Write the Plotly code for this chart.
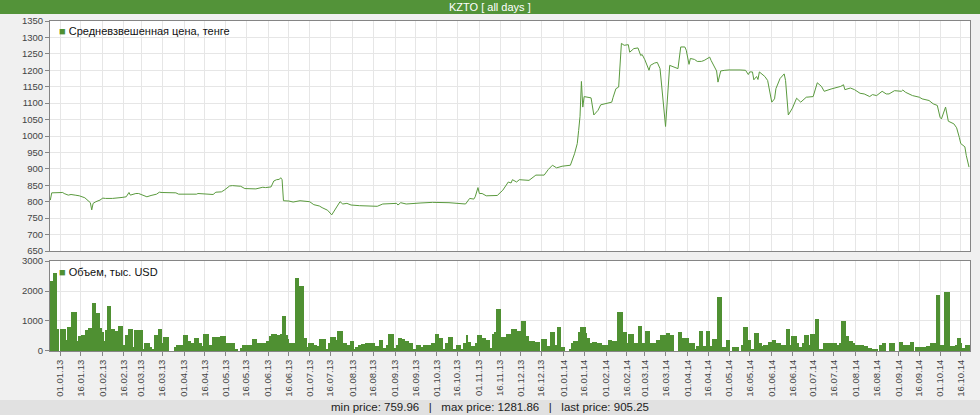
import plotly.graph_objects as go
import pandas as pd

GREEN = "#4f9032"

# ---------------- data ----------------
price_dates = [
"2012-12-25","2012-12-26","2013-01-03","2013-01-04","2013-01-07","2013-01-09","2013-01-12","2013-01-15","2013-01-19","2013-01-21",
"2013-01-23","2013-01-24","2013-01-25","2013-01-27","2013-01-30","2013-02-01","2013-02-03","2013-02-08","2013-02-12","2013-02-15",
"2013-02-18","2013-02-20","2013-02-21","2013-02-25","2013-02-27","2013-03-02","2013-03-04","2013-03-05","2013-03-08","2013-03-12",
"2013-03-14","2013-03-16","2013-03-26","2013-03-28","2013-04-10","2013-04-11","2013-04-22","2013-04-24","2013-04-28","2013-04-30",
"2013-05-04","2013-05-06","2013-05-12","2013-05-15","2013-05-23","2013-05-26","2013-05-28","2013-05-30","2013-06-03","2013-06-05",
"2013-06-07","2013-06-09","2013-06-10","2013-06-11","2013-06-12","2013-06-16","2013-06-19","2013-06-24","2013-06-28","2013-07-01",
"2013-07-04","2013-07-08","2013-07-10","2013-07-14","2013-07-17","2013-07-19","2013-07-21","2013-07-23","2013-07-25","2013-07-28",
"2013-07-31","2013-08-06","2013-08-19","2013-08-23","2013-09-02","2013-09-03","2013-09-05","2013-09-09","2013-09-19","2013-09-28",
"2013-10-10","2013-10-18","2013-10-22","2013-10-25","2013-10-28","2013-10-29","2013-10-31","2013-11-01","2013-11-03","2013-11-06",
"2013-11-14","2013-11-18","2013-11-22","2013-11-24","2013-11-25","2013-11-28","2013-11-30","2013-12-07","2013-12-12","2013-12-18",
"2013-12-21","2013-12-24","2013-12-27","2013-12-31","2014-01-06","2014-01-09","2014-01-11","2014-01-12","2014-01-13","2014-01-14",
"2014-01-15","2014-01-16","2014-01-19","2014-01-21","2014-01-23","2014-01-26","2014-01-28","2014-02-01","2014-02-05","2014-02-06",
"2014-02-08","2014-02-10","2014-02-12","2014-02-14","2014-02-17","2014-02-18","2014-02-21","2014-02-24","2014-02-26","2014-02-27",
"2014-03-01","2014-03-04","2014-03-05","2014-03-08","2014-03-10","2014-03-12","2014-03-14","2014-03-16","2014-03-19","2014-03-22",
"2014-03-25","2014-03-27","2014-03-30","2014-03-31","2014-04-02","2014-04-03","2014-04-06","2014-04-08","2014-04-11","2014-04-13",
"2014-04-17","2014-04-18","2014-04-22","2014-04-23","2014-04-25","2014-04-28","2014-05-01","2014-05-09","2014-05-13","2014-05-15",
"2014-05-16","2014-05-18","2014-05-19","2014-05-21","2014-05-22","2014-05-23","2014-05-27","2014-05-29","2014-06-01","2014-06-03",
"2014-06-04","2014-06-07","2014-06-10","2014-06-11","2014-06-13","2014-06-16","2014-06-19","2014-06-22","2014-06-26","2014-07-01",
"2014-07-04","2014-07-07","2014-07-09","2014-07-14","2014-07-18","2014-07-21","2014-07-23","2014-07-24","2014-07-28","2014-07-31",
"2014-08-04","2014-08-07","2014-08-11","2014-08-13","2014-08-16","2014-08-20","2014-08-23","2014-08-25","2014-08-29","2014-09-03",
"2014-09-04","2014-09-06","2014-09-11","2014-09-16","2014-09-18","2014-09-23","2014-09-26","2014-09-29","2014-10-01","2014-10-02",
"2014-10-05","2014-10-07","2014-10-11","2014-10-13","2014-10-15","2014-10-16","2014-10-19","2014-10-20","2014-10-22",
]
price_values = [
805,827,828,825,820,822,820,818,812,805,
797,775,795,800,805,811,810,810,811,813,
815,828,820,825,825,820,819,815,819,823,
829,828,827,823,823,825,822,829,830,835,
848,849,847,840,839,843,844,843,845,863,
867,868,873,867,803,802,799,803,800,800,
791,787,782,774,759.96,774,787,800,793,795,
790,788,786,793,795,790,797,793,796,798,
797,793,793,810,808,815,843,825,825,818,
819,835,860,857,867,860,867,865,881,881,
898,911,903,908,911,946,977,1017,1060,1166,
1088,1120,1118,1116,1064,1078,1095,1098,1103,1118,
1144,1149,1281.86,1276,1278,1255,1266,1268,1245,1248,
1232,1200,1215,1222,1224,1205,1108,1029,1215,1210,
1205,1271,1271,1261,1218,1236,1233,1227,1227,1230,
1240,1230,1198,1164,1198,1200,1201,1201,1200,1187,
1195,1195,1171,1181,1172,1195,1181,1169,1103,1113,
1144,1175,1189,1169,1064,1085,1115,1103,1118,1120,
1162,1151,1136,1143,1148,1151,1156,1141,1146,1141,
1130,1128,1120,1126,1123,1136,1128,1128,1138,1136,
1140,1133,1123,1118,1113,1108,1098,1093,1057,1052,
1088,1045,1037,1025,995,977,967,941,905.25,
]

vol_dates = [
"2012-12-25","2012-12-27","2012-12-30","2012-12-31","2013-01-01","2013-01-05","2013-01-06","2013-01-09","2013-01-13","2013-01-14",
"2013-01-16","2013-01-19","2013-01-21","2013-01-24","2013-01-27","2013-01-30","2013-01-31","2013-02-02","2013-02-03","2013-02-04",
"2013-02-07","2013-02-10","2013-02-12","2013-02-16","2013-02-17","2013-02-19","2013-02-23","2013-02-24","2013-03-02","2013-03-03",
"2013-03-07","2013-03-09","2013-03-10","2013-03-13","2013-03-16","2013-03-17","2013-03-21","2013-03-25","2013-03-26","2013-03-28",
"2013-03-31","2013-04-04","2013-04-06","2013-04-08","2013-04-12","2013-04-14","2013-04-15","2013-04-19","2013-04-21","2013-04-27",
"2013-05-01","2013-05-04","2013-05-08","2013-05-10","2013-05-12","2013-05-13","2013-05-17","2013-05-20","2013-05-24","2013-05-26",
"2013-05-30","2013-06-02","2013-06-03","2013-06-07","2013-06-10","2013-06-11","2013-06-14","2013-06-15","2013-06-16","2013-06-20",
"2013-06-23","2013-06-27","2013-06-29","2013-06-30","2013-07-04","2013-07-06","2013-07-08","2013-07-13","2013-07-15","2013-07-16",
"2013-07-20","2013-07-21","2013-07-25","2013-07-28","2013-07-30","2013-08-02","2013-08-03","2013-08-05","2013-08-07","2013-08-10",
"2013-08-14","2013-08-17","2013-08-20","2013-08-23","2013-08-25","2013-08-27","2013-08-31","2013-09-02","2013-09-03","2013-09-06",
"2013-09-08","2013-09-11","2013-09-14","2013-09-16","2013-09-20","2013-09-21","2013-09-27","2013-09-30","2013-10-03","2013-10-06",
"2013-10-07","2013-10-09","2013-10-13","2013-10-15","2013-10-19","2013-10-20","2013-10-22","2013-10-24","2013-10-26","2013-10-29",
"2013-10-30","2013-11-03","2013-11-06","2013-11-09","2013-11-10","2013-11-12","2013-11-13","2013-11-17","2013-11-20","2013-11-24",
"2013-11-28","2013-12-01","2013-12-05","2013-12-07","2013-12-11","2013-12-15","2013-12-16","2013-12-20","2013-12-22","2013-12-26",
"2013-12-27","2013-12-30","2014-01-02","2014-01-05","2014-01-07","2014-01-08","2014-01-12","2014-01-13","2014-01-17","2014-01-18",
"2014-01-20","2014-01-22","2014-01-25","2014-01-29","2014-02-02","2014-02-05","2014-02-09","2014-02-13","2014-02-16","2014-02-17",
"2014-02-21","2014-02-24","2014-02-27","2014-03-01","2014-03-05","2014-03-06","2014-03-09","2014-03-12","2014-03-16","2014-03-19",
"2014-03-22","2014-03-25","2014-03-28","2014-04-02","2014-04-06","2014-04-07","2014-04-09","2014-04-12","2014-04-14","2014-04-17",
"2014-04-19","2014-04-22","2014-04-26","2014-04-29","2014-05-02","2014-05-03","2014-05-08","2014-05-10","2014-05-11","2014-05-15",
"2014-05-17","2014-05-19","2014-05-23","2014-05-25","2014-05-26","2014-05-29","2014-06-01","2014-06-04","2014-06-08","2014-06-11",
"2014-06-14","2014-06-15","2014-06-19","2014-06-21","2014-06-23","2014-06-24","2014-06-28","2014-06-29","2014-07-02","2014-07-05",
"2014-07-08","2014-07-13","2014-07-14","2014-07-18","2014-07-20","2014-07-21","2014-07-25","2014-07-27","2014-07-30","2014-07-31",
"2014-08-04","2014-08-07","2014-08-10","2014-08-13","2014-08-17","2014-08-18","2014-08-20","2014-08-23","2014-08-25","2014-08-29",
"2014-09-01","2014-09-04","2014-09-09","2014-09-12","2014-09-13","2014-09-21","2014-09-24","2014-09-28","2014-10-01","2014-10-04",
"2014-10-08","2014-10-12","2014-10-13","2014-10-16","2014-10-17","2014-10-19",
]
vol_values = [
2330,2610,730,0,730,360,810,1290,330,490,
530,700,775,1600,1260,750,620,330,700,1500,
730,660,830,190,530,730,135,700,80,260,
135,45,530,730,250,470,0,135,190,210,
530,330,280,420,280,170,550,210,470,490,
280,250,45,0,100,210,190,390,250,270,
330,490,560,530,580,1150,530,390,280,2420,
2180,420,135,280,210,170,390,80,250,470,
360,660,260,210,330,80,135,190,225,280,
250,170,360,100,190,560,100,210,430,390,
330,250,80,190,135,190,250,550,420,80,
250,450,80,190,80,280,530,300,170,280,
530,420,360,100,580,620,1405,470,560,730,
660,1000,490,330,300,0,390,170,620,190,
810,135,0,55,250,330,640,810,610,420,
250,300,250,210,360,330,1315,620,250,560,
250,840,250,660,280,250,360,530,600,530,
0,620,420,250,55,170,660,170,660,170,
390,1790,135,360,0,135,0,190,810,360,
55,610,250,170,210,300,360,280,190,730,
210,490,280,135,250,530,210,560,1070,55,
270,250,280,190,250,1000,510,330,250,210,
190,170,100,80,0,210,250,0,280,0,
300,210,300,0,135,170,250,1880,190,1955,
170,210,420,250,100,210,
]
vol_end = "2014-10-22 17:00"

x_range = ["2012-12-24 18:00", "2014-10-22 17:00"]

tick_dates = [f"{y}-{m:02d}-{d:02d}" for y in (2013, 2014) for m in range(1, 13) for d in (1, 16)
              if f"{y}-{m:02d}-{d:02d}" <= "2014-10-16"]
tick_labels = [pd.Timestamp(t).strftime("%d.%m.%y") for t in tick_dates]

title_text = "KZTO [ all days ]"
price_label = "Средневзвешенная цена, тенге"
vol_label = "Объем, тыс. USD"
footer_text = "min price: 759.96   |   max price: 1281.86   |   last price: 905.25"

# ---------------- figure ----------------
edges = list(pd.to_datetime(vol_dates)) + [pd.Timestamp(vol_end)]
widths = [(edges[i + 1] - edges[i]).total_seconds() * 1000 for i in range(len(vol_dates))]

fig = go.Figure()
fig.add_trace(go.Scatter(x=price_dates, y=price_values, mode="lines",
                         line=dict(color="#5a9a3e", width=1), xaxis="x", yaxis="y",
                         showlegend=False, hoverinfo="x+y"))
fig.add_trace(go.Bar(x=vol_dates, y=vol_values, width=widths, offset=0,
                     marker=dict(color=GREEN, line=dict(width=0)), xaxis="x2", yaxis="y2",
                     showlegend=False))

GRID = "#e6e6e6"
FRAME = "#858585"
TICKFONT = dict(family="Liberation Sans, Arial, sans-serif", size=9.5, color="#444444")

common_x = dict(type="date", range=x_range, tickvals=tick_dates, ticktext=tick_labels,
                showgrid=True, gridcolor=GRID, gridwidth=1, showline=True, linecolor=FRAME,
                linewidth=1, mirror=True, zeroline=False, fixedrange=True)
fig.update_layout(
    width=980, height=415,
    margin=dict(l=50, r=10, t=21, b=64, pad=0),
    paper_bgcolor="#f0f0f0", plot_bgcolor="#ffffff",
    font=dict(family="Liberation Sans, Arial, sans-serif", size=11, color="#222222"),
    xaxis=dict(common_x, anchor="y", domain=[0, 1], showticklabels=False, ticks=""),
    xaxis2=dict(common_x, anchor="y2", domain=[0, 1], matches="x", showticklabels=True,
                tickangle=-90, ticks="outside", ticklen=4, tickcolor=FRAME, tickfont=TICKFONT),
    yaxis=dict(domain=[0.30303, 1], range=[650, 1350], dtick=50, tick0=0,
               showgrid=True, gridcolor=GRID, showline=True, linecolor=FRAME, mirror=True,
               ticks="outside", ticklen=4, tickcolor=FRAME, tickfont=TICKFONT, zeroline=False,
               fixedrange=True),
    yaxis2=dict(domain=[0, 0.2727], range=[0, 3000], dtick=1000,
                showgrid=True, gridcolor=GRID, showline=True, linecolor=FRAME, mirror=True,
                ticks="outside", ticklen=4, tickcolor=FRAME, tickfont=TICKFONT, zeroline=False,
                fixedrange=True),
    showlegend=False,
    bargap=0,
)

# title bar (green) and footer bar (grey)
fig.add_shape(type="rect", xref="paper", yref="paper", x0=-0.0544, x1=1.0109,
              y0=1.0212, y1=1.0636, fillcolor="#539339", line=dict(width=0), layer="below")
fig.add_annotation(xref="paper", yref="paper", x=0.4783, y=1.0424, text=title_text,
                   showarrow=False, font=dict(color="white", size=11), xanchor="center", yanchor="middle")
fig.add_shape(type="rect", xref="paper", yref="paper", x0=-0.0544, x1=1.0109,
              y0=-0.1939, y1=-0.1485, fillcolor="#e1e1e1", line=dict(width=0), layer="below")
fig.add_annotation(xref="paper", yref="paper", x=0.4783, y=-0.1712, text=footer_text,
                   showarrow=False, font=dict(color="#222222", size=11.5), xanchor="center", yanchor="middle")

# in-plot legends
fig.add_annotation(xref="paper", yref="paper", x=0.008, y=0.97, xanchor="left", yanchor="middle",
                   showarrow=False,
                   text=f'<span style="color:{GREEN}">■</span> {price_label}',
                   font=dict(size=11, color="#111111"))
fig.add_annotation(xref="paper", yref="paper", x=0.008, y=0.24, xanchor="left", yanchor="middle",
                   showarrow=False,
                   text=f'<span style="color:{GREEN}">■</span> {vol_label}',
                   font=dict(size=11, color="#111111"))

fig.write_html("out.html", config={"displayModeBar": False},
               post_script="document.body.style.margin='0';document.body.style.padding='0';")
